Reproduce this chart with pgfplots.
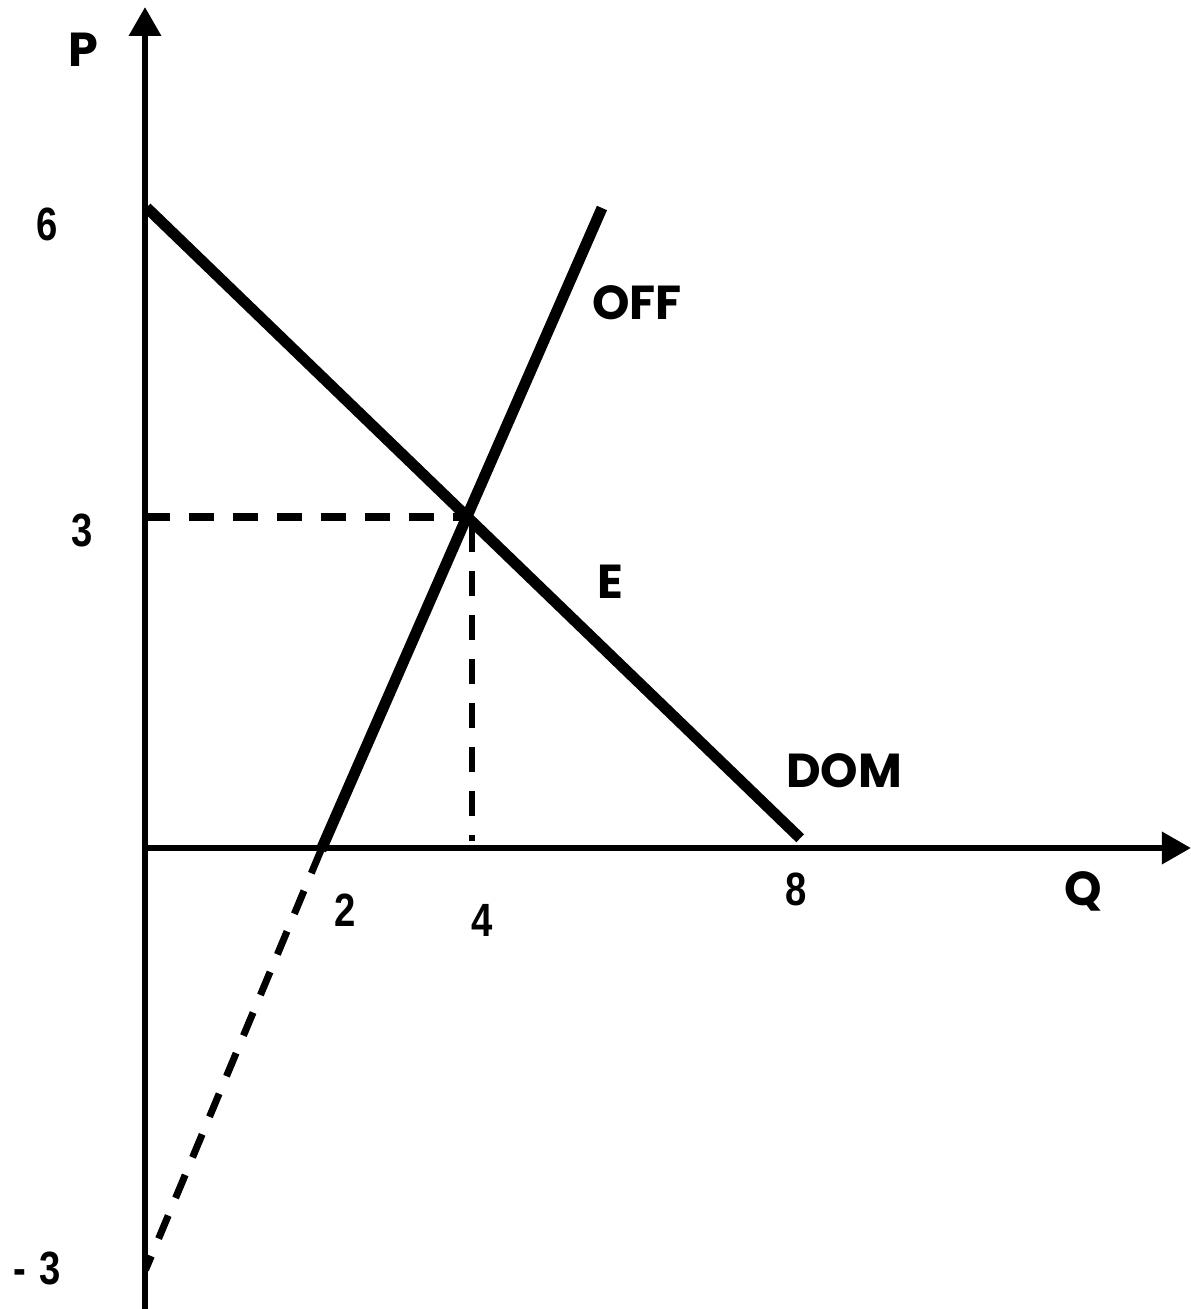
\documentclass[border=0pt]{standalone}
\usepackage{pgfplots}
\pgfplotsset{compat=1.18}
\usepackage{fontspec}
\setmainfont{Poppins}
\newfontfamily\numfont{Liberation Sans}
\usetikzlibrary{arrows.meta}
\newcommand{\lab}[1]{\fontsize{14.3}{15}\selectfont\bfseries #1}
\newcommand{\num}[1]{\scalebox{0.82}[1]{\fontsize{14}{14}\selectfont\numfont\bfseries #1}}
\begin{document}
\begin{tikzpicture}
\begin{axis}[
  scale only axis, width=357.3pt, height=392.7pt,
  xmin=-1.7683, xmax=12.756, ymin=-4.2685, ymax=7.8519,
  hide axis, clip=false,
]
\coordinate (SW) at (rel axis cs:0,0);
\coordinate (NE) at (rel axis cs:1,1);
% axes
\addplot[line width=1.95pt, -{Triangle[width=9.3pt,length=8.7pt]}] coordinates {(0,-4.2685) (0,7.787)};
\addplot[line width=1.95pt, -{Triangle[width=9.3pt,length=8.7pt]}] coordinates {(0,0) (12.756,0)};
% DOM
\addplot[line width=3.3pt] coordinates {(0.02,5.93) (7.99,0.09)};
% OFF
\addplot[line width=3.3pt] coordinates {(2.146,-0.02) (5.573,5.926)};
\addplot[line width=2.1pt, dash pattern=on 7.5pt off 5.7pt] coordinates {(2.146,-0.02) (0.006,-3.907)};
% guides
\addplot[line width=2.3pt, dash pattern=on 7.5pt off 5.7pt] coordinates {(0,3.065) (3.85,3.065)};
\addplot[line width=2pt, dash pattern=on 7.5pt off 5.7pt] coordinates {(3.988,2.97) (3.988,0.065)};
% labels
\node[inner sep=0] at (axis cs:-0.756,7.389) {\lab{P}};
\node[inner sep=0] at (axis cs:11.439,-0.40) {\lab{Q}};
\node[inner sep=0] at (axis cs:8.524,0.713) {\lab{DOM}};
\node[inner sep=0] at (axis cs:6.0,5.046) {\lab{OFF}};
\node[inner sep=0] at (axis cs:5.671,2.463) {\lab{E}};
\node[inner sep=0] at (axis cs:-1.195,5.778) {\num{6}};
\node[inner sep=0] at (axis cs:-0.768,2.944) {\num{3}};
\node[inner sep=0] at (axis cs:-1.317,-3.889) {\num{-\hspace{5pt}3}};
\node[inner sep=0] at (axis cs:2.439,-0.574) {\num{2}};
\node[inner sep=0] at (axis cs:4.110,-0.667) {\num{4}};
\node[inner sep=0] at (axis cs:7.939,-0.380) {\num{8}};
\end{axis}
\pgfresetboundingbox
\useasboundingbox (SW) rectangle (NE);
\end{tikzpicture}
\end{document}
